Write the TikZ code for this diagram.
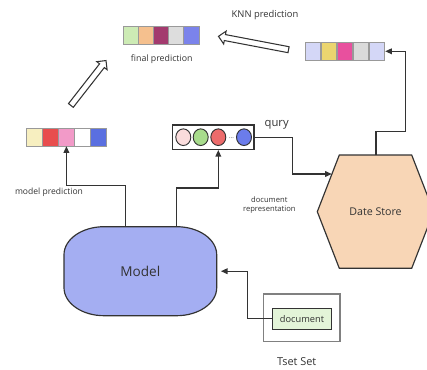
\documentclass[tikz,border=0pt]{standalone}
\usepackage{fontspec}
\setmainfont{Open Sans}
\usetikzlibrary{calc,shapes.geometric,shapes.arrows,arrows.meta}
\definecolor{ink}{RGB}{51,51,51}
\definecolor{modelblue}{HTML}{A4AEF2}
\definecolor{storepeach}{HTML}{F8D6B6}
\definecolor{docgreen}{HTML}{E3F4D8}
% bar colours
\definecolor{fpA}{HTML}{CDEBB5}
\definecolor{fpB}{HTML}{F5C08E}
\definecolor{fpC}{HTML}{A33A6E}
\definecolor{fpD}{HTML}{DDDDDD}
\definecolor{fpE}{HTML}{7B83EB}
\definecolor{knA}{HTML}{D4D7F7}
\definecolor{knB}{HTML}{EBD56F}
\definecolor{knC}{HTML}{E8509E}
\definecolor{knD}{HTML}{DADADA}
\definecolor{mpA}{HTML}{F7EFC0}
\definecolor{mpB}{HTML}{E84D4D}
\definecolor{mpC}{HTML}{F29AC8}
\definecolor{mpD}{HTML}{FFFFFF}
\definecolor{mpE}{HTML}{5A6FE0}
\definecolor{qA}{HTML}{FADCDC}
\definecolor{qB}{HTML}{A8DC8C}
\definecolor{qC}{HTML}{EC6B6B}
\definecolor{qD}{HTML}{6B7CEB}

\begin{document}
\begin{tikzpicture}[x=0.03cm,y=-0.03cm,
  cell/.style={draw=gray!80,line width=0.6pt,minimum width=0.47cm,minimum height=0.52cm,inner sep=0pt},
  link/.style={ink,line width=1.1pt,-{Triangle[length=2mm,width=1.7mm]}},
  bigarrow/.style={single arrow,draw=ink,line width=0.9pt,fill=white,inner xsep=0pt,inner ysep=0.075cm,single arrow head extend=0.105cm},
  lbl/.style={text=ink,inner sep=0pt}]
\useasboundingbox (0,0) rectangle (427,369);
% prediction bars
\foreach \c [count=\i] in {fpA,fpB,fpC,fpD,fpE}
  \node[cell,minimum width=0.456cm,fill=\c] (fp\i) at ({115.4+15.2*\i},35.5) {};
\foreach \c [count=\i] in {knA,knB,knC,knD,knA}
  \node[cell,fill=\c] (kn\i) at ({297+16*\i},51.3) {};
\foreach \c [count=\i] in {mpA,mpB,mpC,mpD,mpE}
  \node[cell,fill=\c] (mp\i) at ({18.7+15.9*\i},137.2) {};
\node[lbl,font=\fontsize{7.5}{9}\selectfont] (fplabel) at (161.7,59) {final prediction};
\node[lbl,font=\fontsize{8}{9}\selectfont] (knlabel) at (265,15) {KNN prediction};
\node[lbl,font=\fontsize{7.3}{9}\selectfont] (mplabel) at (49,192) {model prediction};
% hollow arrows
\node[bigarrow,minimum height=1.71cm,rotate=52] (uparrow) at (87.5,84.2) {};
\node[bigarrow,minimum height=2.14cm,rotate=169.2] (knnarrow) at (255,43.3) {};
% query vector
\node[draw=ink,line width=1pt,fill=white,minimum width=2.44cm,minimum height=0.73cm,inner sep=0pt] (qbox) at (213.4,137.2) {};
\foreach \c/\x [count=\i] in {qA/183.3,qB/200.7,qC/218.3,qD/244}
  \node[ellipse,draw=ink,line width=0.8pt,fill=\c,minimum width=0.45cm,minimum height=0.5cm,inner sep=0pt] (q\i) at (\x,137.2) {};
\node[lbl,font=\tiny] (qdots) at (231.5,138.5) {...};
\node[lbl,font=\fontsize{9.6}{11}\selectfont] (qlabel) at (276.7,125) {qury};
\node[lbl,font=\fontsize{6.5}{8}\selectfont,align=center] (drlabel) at (269.3,205.3) {document\\representation};
% model
\draw[ink,line width=1pt,fill=modelblue] (104,226.7) -- (176.7,226.7) arc(90:0:1.2cm and 0.84cm)
  -- (216.7,287.7) arc(0:-90:1.2cm and 0.84cm) -- (104,315.7) arc(270:180:1.2cm and 0.84cm)
  -- (64,254.7) arc(180:90:1.2cm and 0.84cm) -- cycle;
\node[lbl,font=\fontsize{11.6}{13}\selectfont,minimum width=4.58cm,minimum height=2.67cm] (model) at (140.3,271.2) {Model};
% date store
\draw[ink,line width=1pt,fill=storepeach] (339.3,155) -- (411.7,155) -- (433.7,211.7) -- (411.7,268.3)
  -- (339.3,268.3) -- (317.3,211.7) -- cycle;
\coordinate (storetop) at (376,155);
\coordinate (storein) at (331.8,174);
\node[lbl,font=\fontsize{9.1}{11}\selectfont] (store) at (375.5,211.7) {Date Store};
% test set
\node[draw=gray,line width=1pt,minimum width=2.3cm,minimum height=1.43cm,inner sep=0pt] (tset) at (301.7,317.8) {};
\node[draw=ink,line width=1pt,fill=docgreen,text=ink,minimum width=1.78cm,minimum height=0.63cm,inner sep=0pt,font=\fontsize{7.9}{9}\selectfont] (doc) at (302,318.8) {document};
\node[lbl,font=\fontsize{9.3}{11}\selectfont] (tsetlabel) at (296.7,361.7) {Tset Set};
% connectors
\coordinate (qin) at (q3|-qbox.south);
\draw[link] ($(model.north west)+(61.7,0)$) |- ($(mp3.south)+(0,39)$) -- (mp3.south);
\draw[link] ($(model.north west)+(112.7,0)$) |- ($(qin)+(0,38)$) -- (qin);
\draw[link] (qbox.east) -- ++(37.7,0) |- (storein);
\draw[link] (storetop) -- ++(0,-23.3) -| ($(kn5.east)+(20.3,0)$) -- (kn5.east);
\draw[link,shorten >=1.2mm] (doc.west) -- ++(-24,0) |- (model.east);
\end{tikzpicture}
\end{document}
